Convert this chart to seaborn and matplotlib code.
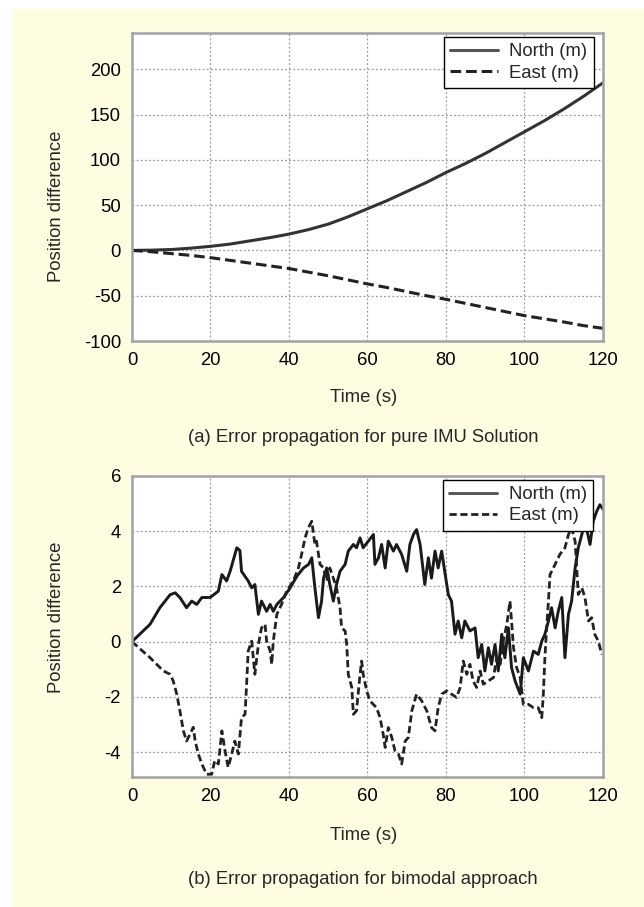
import numpy as np
import pandas as pd
import matplotlib
matplotlib.use("Agg")
import matplotlib.pyplot as plt
from matplotlib.patches import Rectangle
import seaborn as sns

# ---------------- data ----------------
# (a) pure IMU solution
imu_t = [0, 5, 10, 15, 20, 25, 30, 35, 40, 45, 50, 55, 60, 65, 70, 75, 80, 85,
         90, 95, 100, 105, 110, 115, 120]
imu_north = [0, 0.3, 1, 2.5, 4.5, 7, 10.5, 14, 18, 23, 29, 37, 46, 55, 65, 75,
             86, 96, 107, 119, 131, 143, 156, 170, 185]
imu_east = [0, -1.5, -3.5, -5.5, -8, -11, -14, -17, -20, -24, -28, -32.5, -37,
            -41, -45.5, -50, -54, -58.5, -63, -67.5, -72, -75.5, -79, -83, -86]

# (b) bimodal approach
bi_north_t = [0, 4.6, 7.1, 9.7, 11, 12.2, 13.9, 15.2, 16.5, 17.8, 19.9, 22, 22.9,
              24.1, 25, 26.7, 27.5, 27.9, 29.6, 30.5, 31.3, 32.2, 33, 34.3, 35.2,
              36, 36.9, 38.6, 40.3, 42, 43.7, 45, 45.8, 46.6, 47.5, 48.3, 48.8,
              49.6, 50.4, 51.3, 52.1, 53, 54.3, 55.1, 56.4, 57.2, 58.1, 58.9,
              60.2, 61.5, 61.9, 62.8, 63.6, 64.5, 65.3, 66.6, 67.4, 68.7, 70,
              70.8, 71.7, 72.5, 73.4, 74.6, 75.5, 76.3, 77.2, 78, 78.9, 79.8,
              80.6, 81.4, 82.3, 83.1, 84, 84.8, 86.1, 87.4, 88.2, 89.1, 89.9,
              90.8, 91.6, 92.5, 93.3, 94.2, 95, 95.9, 96.7, 97.6, 98.9, 99.7,
              101, 102.3, 103.5, 104.4, 105.2, 106.1, 106.9, 107.8, 108.6, 109.5,
              110.3, 111.2, 112, 112.9, 113.7, 114.6, 115.4, 116.7, 117.5, 118.4,
              119.2, 120]
bi_north_v = [0, 0.63, 1.23, 1.7, 1.77, 1.6, 1.23, 1.47, 1.35, 1.6, 1.6, 1.83, 2.43,
              2.2, 2.55, 3.4, 3.3, 2.55, 2.2, 1.95, 2.07, 0.99, 1.47, 1.1, 1.35,
              1.1, 1.35, 1.6, 1.95, 2.37, 2.67, 2.8, 3.04, 1.95, 0.87, 1.47, 2.3,
              2.67, 2.07, 1.47, 2.07, 2.55, 2.8, 3.28, 3.52, 3.4, 3.76, 3.4,
              3.64, 3.88, 2.8, 3.04, 3.52, 2.67, 3.64, 3.28, 3.52, 3.16, 2.55,
              3.52, 3.88, 4.06, 3.52, 2.07, 3.04, 2.3, 3.28, 2.67, 3.28, 2.43,
              1.7, 1.47, 0.27, 0.75, 0.14, 0.75, 0.39, 0.5, -0.58, -0.1, -1.06,
              -0.22, -0.82, -0.1, -1.06, 0.27, -0.58, 0.5, -0.94, -1.42, -1.9, -0.58,
              -1.06, -0.34, -0.46, 0.02, 0.27, 0.75, 1.23, 0.5, 1.1, 1.6,
              -0.58, 0.99, 1.47, 2.67, 3.4, 3.88, 4.36, 3.52, 4.36, 4.72,
              4.96, 4.8]

bi_east_t = [0, 4.6, 8, 9.7, 10.5, 11.4, 12.2, 13.1, 13.9, 14.8, 15.6, 16.1, 16.9,
             17.8, 19, 20.3, 21.1, 22, 22.9, 23.7, 24.5, 25.4, 26.2, 27.1, 27.9,
             28.8, 29.2, 29.6, 30.5, 31.3, 32.2, 33, 33.9, 34.3, 35.2, 35.6, 36,
             36.9, 38.1, 39.4, 41.1, 42.4, 43.2, 44.1, 44.9, 45.8, 46.6, 47,
             47.9, 48.8, 49.6, 50.4, 51.3, 52.1, 53, 53.4, 54.3, 54.7, 55.1, 56,
             56.4, 57.2, 58.1, 58.5, 58.9, 59.8, 60.6, 61.5, 62.3, 63.2, 64,
             64.5, 65.3, 66.2, 67, 67.9, 68.7, 69.6, 70.4, 71.3, 72.5, 73.8,
             75.1, 76.3, 77.2, 78, 78.9, 80.2, 81.4, 82.7, 83.6, 84.4, 85.3,
             86.1, 86.9, 87.8, 88.7, 89.5, 90.8, 92.1, 92.9, 93.8, 94.6, 95.5,
             96.3, 96.7, 97.2, 98, 98.9, 99.7, 101, 102.3, 103.5, 104.4, 104.8,
             105.2, 105.6, 106.1, 106.5, 107.8, 109, 110.3, 111.2, 112, 112.9,
             113.3, 113.7, 114.6, 115.4, 116.3, 117.1, 117.9, 118.8, 119.7]
bi_east_v = [0, -0.58, -1.06, -1.18, -1.42, -1.9, -2.5, -3.23, -3.6, -3.35, -3.1,
             -3.6, -4.07, -4.43, -4.8, -4.8, -4.3, -4.43, -3.23, -3.95, -4.55,
             -4.07, -3.6, -4.07, -2.75, -2.63, -1.54, -0.34, 0.02, -1.18, -0.1,
             0.5, 0.63, 0.02, -0.34, -0.82, 0.02, 0.99, 1.35, 1.83, 2.2, 2.67,
             3.16, 3.76, 4.12, 4.36, 3.52, 3.64, 2.8, 2.67, 2.2, 2.67, 2.3, 1.95,
             1.23, 0.5, 0.39, -0.1, -1.18, -1.66, -2.63, -2.5, -1.18, -0.7,
             -1.18, -1.78, -2.14, -2.27, -2.39, -2.75, -3.35, -3.83, -3.11,
             -3.47, -3.95, -4.07, -4.43, -3.6, -3.47, -2.5, -1.9, -2.14, -2.5,
             -3.11, -3.23, -2.39, -1.9, -1.78, -1.9, -2.02, -1.66, -0.7, -1.18,
             -0.82, -1.42, -1.66, -1.06, -1.54, -1.42, -1.3, -0.58, -0.82, 0.02,
             0.63, 1.47, 0.75, -0.22, -0.94, -1.3, -2.27, -2.27, -2.39, -2.39,
             -2.75, -1.9, -0.58, 0.39, 1.47, 2.43, 2.8, 3.16, 3.4, 3.88, 4.12,
             3.64, 2.67, 1.71, 1.95, 1.6, 0.75, 0.87, 0.27, 0.02, -0.46]

legend_labels = ["North (m)", "East (m)"]
top_yticks = [-100, -50, 0, 50, 100, 150, 200]
bot_yticks = [-4, -2, 0, 2, 4, 6]
xticks = [0, 20, 40, 60, 80, 100, 120]
captions = ["(a) Error propagation for pure IMU Solution",
            "(b) Error propagation for bimodal approach"]

# ---------------- style ----------------
sns.set_theme(style="white")
plt.rcParams["font.family"] = ["Liberation Sans", "DejaVu Sans"]
FS = 13.3
W, H = 644, 907
fig = plt.figure(figsize=(W / 100, H / 100), dpi=100, facecolor="white")
fig.patches.append(Rectangle((12 / W, 0), 1 - 12 / W, 1 - 9 / H,
                             transform=fig.transFigure, facecolor="#fefde2",
                             edgecolor="none", zorder=-10))

def px_axes(l, t, r, b):
    return fig.add_axes([l / W, 1 - b / H, (r - l) / W, (b - t) / H])

ax1 = px_axes(132, 33, 603, 341)
ax2 = px_axes(132, 476, 603, 777)

df_a = pd.DataFrame({"t": imu_t, "north": imu_north, "east": imu_east})
sns.lineplot(data=df_a, x="t", y="north", ax=ax1, color="#333333", lw=2.2,
             label=legend_labels[0])
sns.lineplot(data=df_a, x="t", y="east", ax=ax1, color="#222222", lw=2.2,
             linestyle=(0, (3.5, 1.6)), label=legend_labels[1])

df_n = pd.DataFrame({"t": bi_north_t, "v": bi_north_v})
df_e = pd.DataFrame({"t": bi_east_t, "v": bi_east_v})
sns.lineplot(data=df_n, x="t", y="v", ax=ax2, color="#1a1a1a", lw=2.1,
             label=legend_labels[0])
sns.lineplot(data=df_e, x="t", y="v", ax=ax2, color="#222222", lw=2.0,
             linestyle=(0, (2.6, 1.3)), label=legend_labels[1])

for ax, yt, ylim in [(ax1, top_yticks, (-100, 240)), (ax2, bot_yticks, (-4.9, 6))]:
    ax.set_facecolor("white")
    ax.set_xlim(0, 120)
    ax.set_ylim(*ylim)
    ax.set_xticks(xticks)
    ax.set_yticks(yt)
    ax.set_xticklabels([str(v) for v in xticks])
    ax.set_yticklabels([str(v) for v in yt])
    ax.grid(True, linestyle=(0, (1.5, 1.8)), color="#9a9a9a", lw=0.9)
    ax.set_axisbelow(True)
    for s in ax.spines.values():
        s.set_color("#a3a1a8")
        s.set_linewidth(1.8)
    ax.tick_params(length=0, pad=8, labelsize=FS, colors="black")
    ax.set_xlabel("")
    ax.set_ylabel("")

# legends
for ax, anchor in [(ax1, (0.981, 0.987)), (ax2, (0.979, 0.987))]:
    leg = ax.legend(loc="upper right", bbox_to_anchor=anchor,
                    borderaxespad=0, frameon=True, fancybox=False, framealpha=1,
                    edgecolor="black", fontsize=FS, handlelength=2.6,
                    handletextpad=0.6, borderpad=0.35, labelspacing=0.22)
    leg.get_frame().set_linewidth(1.0)
    leg.get_lines()[0].set_color("#555555")

# labels and captions
fig.text(57 / W, 1 - 206 / H, "Position difference", rotation=90,
         ha="center", va="center", fontsize=FS)
fig.text(57 / W, 1 - 617 / H, "Position difference", rotation=90,
         ha="center", va="center", fontsize=FS)
fig.text(364 / W, 1 - 397 / H, "Time (s)", ha="center", va="center", fontsize=FS)
fig.text(364 / W, 1 - 835 / H, "Time (s)", ha="center", va="center", fontsize=FS)
fig.text(363 / W, 1 - 437 / H, captions[0], ha="center", va="center", fontsize=FS)
fig.text(363 / W, 1 - 880 / H, captions[1], ha="center", va="center", fontsize=FS)

fig.savefig("out.png", dpi=100, facecolor="white")
